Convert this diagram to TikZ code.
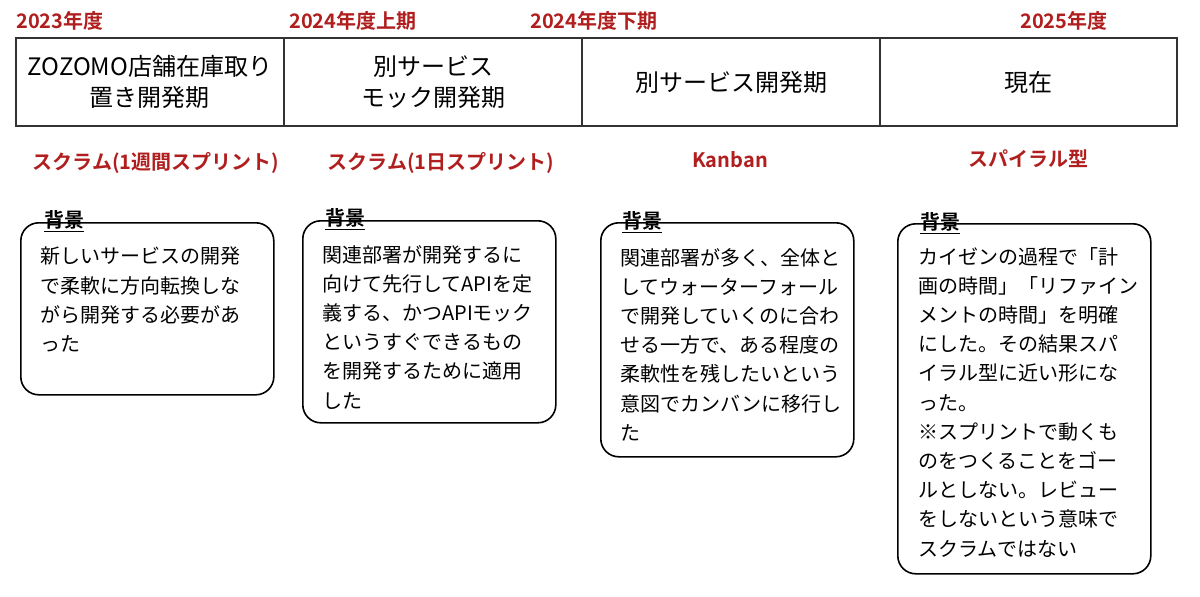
\documentclass[tikz,border=0pt]{standalone}
\usepackage{fontspec}
\setmainfont{Noto Sans CJK JP}[BoldFont={Noto Sans CJK JP Bold}]
\usepackage{xcolor}
\definecolor{termred}{HTML}{B01E1E}
\definecolor{lineblack}{HTML}{333333}

\begin{document}
\begin{tikzpicture}[x=1pt, y=-1pt]
		\tikzstyle{period} = [draw=lineblack, line width=1.8pt, minimum height=88pt, inner sep=0pt, align=center, font=\fontsize{24}{31}\selectfont]
		\tikzstyle{year} = [anchor=west, inner sep=0pt, text=termred, font=\fontsize{20}{22}\selectfont\bfseries]
		\tikzstyle{method} = [inner sep=0pt, text=termred, font=\fontsize{20}{24}\selectfont\bfseries]
		\tikzstyle{bgbox} = [draw=black, line width=1.6pt, rounded corners=18pt, minimum width=253pt, anchor=north west, inner sep=0pt]
		\tikzstyle{bgtag} = [anchor=west, inner sep=0pt, font=\fontsize{20}{24}\selectfont\bfseries]
		\tikzstyle{bgtext} = [anchor=north west, inner sep=0pt, align=left, font=\fontsize{20}{29.2}\selectfont]
		\useasboundingbox (0,0) rectangle (1200,597);
		% periods
		\node[period, minimum width=268pt] (p1) at (150, 82) {ZOZOMO店舗在庫取り\\置き開発期};
		\node[period, minimum width=298pt] (p2) at (433, 82) {別サービス\\モック開発期};
		\node[period, minimum width=298pt] (p3) at (731, 82) {別サービス開発期};
		\node[period, minimum width=297pt] (p4) at (1028.5, 82) {現在};
		% years
		\node[year] (y1) at (16, 21) {2023年度};
		\node[year] (y2) at (289, 21) {2024年度上期};
		\node[year] (y3) at (530, 21) {2024年度下期};
		\node[year] (y4) at (1020, 21) {2025年度};
		% methods
		\node[method] (m1) at (156, 163) {スクラム(1週間スプリント)};
		\node[method] (m2) at (441, 163) {スクラム(1日スプリント)};
		\node[method] (m3) at (730, 160) {Kanban};
		\node[method] (m4) at (1028, 159) {スパイラル型};
		% backgrounds
		\node[bgbox, minimum height=172pt] (bg1) at (20, 222) {};
		\node[bgbox, minimum height=202pt] (bg2) at (302, 220) {};
		\node[bgbox, minimum height=234pt] (bg3) at (600, 222) {};
		\node[bgbox, minimum height=350pt] (bg4) at (897, 223) {};
		\node[bgtag] (t1) at ([xshift=24pt, yshift=1pt]bg1.north west) {\underline{背景}};
		\node[bgtag] (t2) at ([xshift=23pt, yshift=1pt]bg2.north west) {\underline{背景}};
		\node[bgtag] (t3) at ([xshift=22pt, yshift=0pt]bg3.north west) {\underline{背景}};
		\node[bgtag] (t4) at ([xshift=23pt, yshift=0pt]bg4.north west) {\underline{背景}};
		\node[bgtext] (b1) at ([xshift=20pt, yshift=-25pt]bg1.north west) {新しいサービスの開発\\で柔軟に方向転換しな\\がら開発する必要があ\\った};
		\node[bgtext] (b2) at ([xshift=20pt, yshift=-25pt]bg2.north west) {関連部署が開発するに\\向けて先行してAPIを定\\義する、かつAPIモック\\というすぐできるもの\\を開発するために適用\\した};
		\node[bgtext] (b3) at ([xshift=20pt, yshift=-26pt]bg3.north west) {関連部署が多く、全体と\\してウォーターフォール\\で開発していくのに合わ\\せる一方で、ある程度の\\柔軟性を残したいという\\意図でカンバンに移行し\\た};
		\node[bgtext] (b4) at ([xshift=21pt, yshift=-24pt]bg4.north west) {カイゼンの過程で「計\\画の時間」「リファイン\\メントの時間」を明確\\にした。その結果スパ\\イラル型に近い形にな\\った。\\※スプリントで動くも\\のをつくることをゴー\\ルとしない。レビュー\\をしないという意味で\\スクラムではない};
	\end{tikzpicture}
\end{document}
